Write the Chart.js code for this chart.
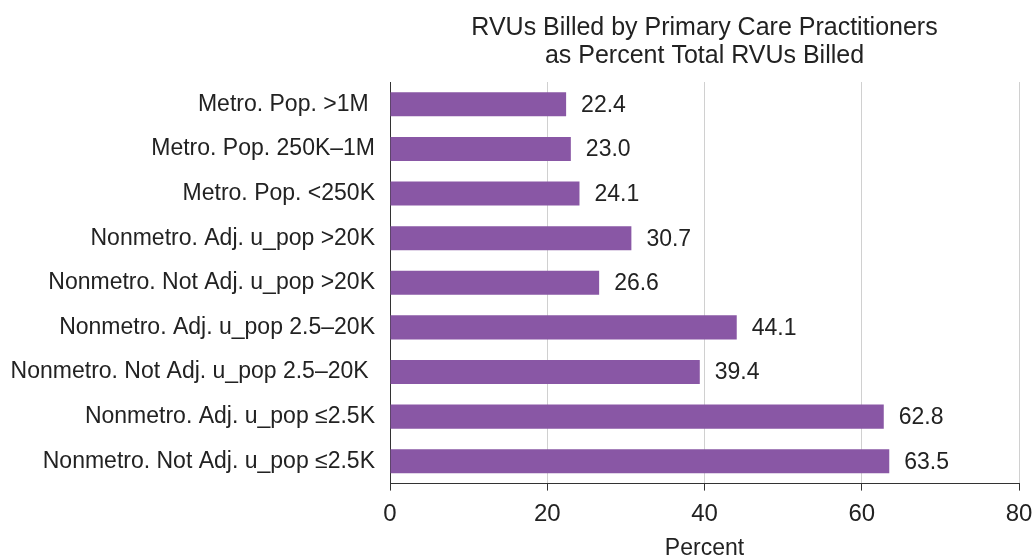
<!DOCTYPE html>
<html>
<head>
<meta charset="utf-8">
<script src="https://cdn.jsdelivr.net/npm/chart.js@4"></script>
<style>
  html, body { margin: 0; padding: 0; background: #fff; }
  #wrap { width: 1034px; height: 558px; }
</style>
</head>
<body>
<div id="wrap"><canvas id="chart"></canvas></div>
<script>
let categorias = [
    'Metro. Pop. >1M ',
    'Metro. Pop. 250K\u20131M',
    'Metro. Pop. <250K',
    'Nonmetro. Adj. u_pop >20K',
    'Nonmetro. Not Adj. u_pop >20K',
    'Nonmetro. Adj. u_pop 2.5\u201320K',
    'Nonmetro. Not Adj. u_pop 2.5\u201320K ',
    'Nonmetro. Adj. u_pop \u22642.5K',
    'Nonmetro. Not Adj. u_pop \u22642.5K'
];
let valores = [22.4, 23.0, 24.1, 30.7, 26.6, 44.1, 39.4, 62.8, 63.5];
let ticksX = [0, 20, 40, 60, 80];

let fonte = 'Liberation Sans, Arial, Helvetica, sans-serif';

// rotulos de valor ao lado das barras
let rotulos = {
    id: 'rotulos',
    afterDatasetsDraw(chart) {
        let ctx = chart.ctx;
        let meta = chart.getDatasetMeta(0);
        ctx.save();
        ctx.font = '23px ' + fonte;
        ctx.fillStyle = '#222';
        ctx.textAlign = 'left';
        ctx.textBaseline = 'middle';
        meta.data.forEach((bar, i) => {
            ctx.fillText(valores[i].toFixed(1), bar.x + 15, bar.y + 1);
        });
        ctx.restore();
    }
};

let config = {
    type: 'bar',
    data: {
        labels: categorias,
        datasets: [{
            data: valores,
            backgroundColor: '#8957a5',
            barPercentage: 0.9,
            categoryPercentage: 0.6
        }]
    },
    options: {
        indexAxis: 'y',
        responsive: true,
        maintainAspectRatio: false,
        animation: false,
        layout: { padding: { left: 0, right: 0, top: 0, bottom: 0 } },
        plugins: {
            legend: { display: false },
            tooltip: { enabled: false },
            title: {
                display: true,
                fullSize: false,
                text: ['RVUs Billed by Primary Care Practitioners', 'as Percent Total RVUs Billed'],
                color: '#222',
                font: { family: fonte, size: 25, weight: 'normal', lineHeight: 1.12 },
                padding: { top: 14, bottom: 12 }
            }
        },
        scales: {
            x: {
                min: 0,
                max: 80,
                afterBuildTicks: (scale) => { scale.ticks = ticksX.map(v => ({ value: v })); },
                afterFit: (scale) => { scale.paddingRight = 15; },
                grid: {
                    color: '#d0d0d0',
                    tickColor: '#333',
                    tickLength: 7,
                    lineWidth: 1
                },
                border: { display: true, color: '#333', width: 1 },
                ticks: {
                    color: '#222',
                    font: { family: fonte, size: 24, lineHeight: 1 },
                    padding: 12
                },
                title: {
                    display: true,
                    text: 'Percent',
                    color: '#222',
                    font: { family: fonte, size: 23, lineHeight: 0.8 },
                    padding: { top: 1, bottom: 0 }
                }
            },
            y: {
                afterFit: (scale) => { scale.width = 390; },
                grid: { display: false, drawTicks: false },
                border: { display: true, color: '#333', width: 1 },
                ticks: {
                    color: '#222',
                    font: { family: fonte, size: 23 },
                    padding: 15
                }
            }
        }
    },
    plugins: [rotulos]
};

let ctx = document.getElementById('chart').getContext('2d');
let grafico = new Chart(ctx, config);
</script>
</body>
</html>
